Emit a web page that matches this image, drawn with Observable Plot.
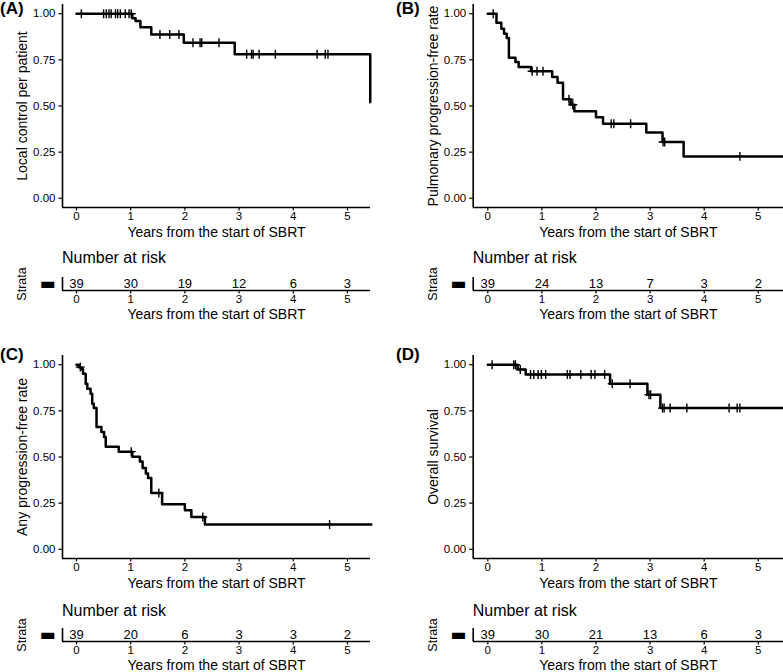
<!DOCTYPE html>
<html><head><meta charset="utf-8">
<script src="https://cdn.jsdelivr.net/npm/d3@7"></script>
<script src="https://cdn.jsdelivr.net/npm/@observablehq/plot@0.6"></script>
<style>
body{margin:0;background:#fff;}
#wrap{position:relative;width:783px;height:672px;overflow:hidden;font-family:"Liberation Sans",Arial,sans-serif;color:#000;}
.abs{position:absolute;white-space:nowrap;}
.letter{font-weight:bold;font-size:17px;line-height:18px;}
.nar{font-size:16px;line-height:16px;}
svg g[aria-label="x-axis label"], svg g[aria-label="y-axis label"]{font-size:14px;}
svg.risk g[aria-label="y-axis label"]{font-size:12.5px;}
svg.risk g[aria-label="y-axis tick label"]{font-size:17px;font-family:"DejaVu Sans",sans-serif;}
</style></head><body><div id="wrap"></div>
<script>
// ---- data ----
const yearTicks = [0, 1, 2, 3, 4, 5];
const survTicks = [0, 0.25, 0.5, 0.75, 1];
const riskTimes = [0, 1, 2, 3, 4, 5];
const xLabel = "Years from the start of SBRT";
const panelLetters = ["(A)", "(B)", "(C)", "(D)"];
const yLabels = ["Local control per patient", "Pulmonary progression-free rate", "Any progression-free rate", "Overall survival"];

const timesA = [0, 1.03, 1.09, 1.18, 1.38, 1.98, 2.92, 5.42];
const survA  = [1, 0.975, 0.96, 0.927, 0.888, 0.843, 0.78, 0.52];
const censorA = [0.09, 0.50, 0.55, 0.60, 0.64, 0.72, 0.76, 0.81, 0.90, 0.97, 1.01, 1.54, 1.72, 1.89, 2.15, 2.28, 2.31, 2.63, 3.14, 3.23, 3.26, 3.37, 3.67, 4.44, 4.59, 4.64];
const riskA = [39, 30, 19, 12, 6, 3];

const timesB = [0, 0.16, 0.25, 0.30, 0.35, 0.39, 0.51, 0.57, 0.80, 1.19, 1.29, 1.39, 1.53, 1.60, 2.00, 2.13, 2.93, 3.23, 3.62, 5.47];
const survB  = [1, 0.951, 0.919, 0.892, 0.868, 0.762, 0.738, 0.711, 0.688, 0.657, 0.626, 0.536, 0.507, 0.471, 0.439, 0.404, 0.356, 0.305, 0.227, 0.227];
const censorB = [0.10, 0.82, 0.91, 1.02, 1.50, 1.57, 2.28, 2.33, 2.64, 3.24, 3.27, 4.66];
const riskB = [39, 24, 13, 7, 3, 2];

const timesC = [0, 0.04, 0.09, 0.12, 0.17, 0.20, 0.26, 0.29, 0.32, 0.37, 0.46, 0.51, 0.54, 0.78, 1.03, 1.17, 1.22, 1.28, 1.32, 1.38, 1.58, 2.00, 2.12, 2.37, 5.44];
const survC  = [1, 0.987, 0.975, 0.951, 0.897, 0.870, 0.843, 0.789, 0.765, 0.662, 0.635, 0.608, 0.556, 0.529, 0.502, 0.476, 0.44, 0.41, 0.386, 0.305, 0.244, 0.211, 0.175, 0.134, 0.134];
const censorC = [0.07, 1.01, 1.52, 2.33, 4.67];
const riskC = [39, 20, 6, 3, 3, 2];

const timesD = [0, 0.55, 0.70, 2.26, 2.95, 3.19, 5.48];
const survD  = [1, 0.974, 0.947, 0.897, 0.837, 0.765, 0.765];
const censorD = [0.08, 0.48, 0.51, 0.60, 0.79, 0.85, 0.93, 0.99, 1.07, 1.47, 1.52, 1.72, 1.91, 1.98, 2.16, 2.30, 2.63, 2.98, 3.01, 3.23, 3.26, 3.37, 3.68, 4.46, 4.61, 4.66];
const riskD = [39, 30, 21, 13, 6, 3];

// ---- layout ----
const FONT = '"Liberation Sans", Arial, sans-serif';
const leftCol  = {left: 0,   width: 390, ml: 62,   mr: 20, xdom: [-0.258, 5.425]};
const rightCol = {left: 390, width: 393, ml: 82.7, mr: 0,  xdom: [-0.27, 5.466]};

const panels = [
  {col: leftCol,  top: 0,   times: timesA, surv: survA, censor: censorA, risk: riskA},
  {col: rightCol, top: 0,   times: timesB, surv: survB, censor: censorB, risk: riskB},
  {col: leftCol,  top: 351, times: timesC, surv: survC, censor: censorC, risk: riskC},
  {col: rightCol, top: 351, times: timesD, surv: survD, censor: censorD, risk: riskD}
];

const wrap = document.getElementById("wrap");
function place(node, left, top) {
  const d = document.createElement("div");
  d.className = "abs";
  d.style.left = left + "px";
  d.style.top = top + "px";
  d.appendChild(node);
  wrap.appendChild(d);
  return d;
}
function htmlText(txt, cls, left, top) {
  const d = document.createElement("div");
  d.className = "abs " + cls;
  d.style.left = left + "px";
  d.style.top = top + "px";
  d.textContent = txt;
  wrap.appendChild(d);
}

function survPlot(p, ylabel) {
  const c = p.col;
  const line = p.times.map((t, i) => ({t, s: p.surv[i]}));
  const stepAt = t => { let v = p.surv[0]; p.times.forEach((tt, i) => { if (tt <= t) v = p.surv[i]; }); return v; };
  const cens = p.censor.map(t => ({t, s: stepAt(t)}));
  return Plot.plot({
    width: c.width, height: 240,
    marginLeft: c.ml, marginRight: c.mr, marginTop: 4, marginBottom: 33,
    style: {fontFamily: FONT, fontSize: "11.5px", color: "black", background: "transparent", overflow: "visible"},
    x: {domain: c.xdom},
    y: {domain: [-0.05, 1.05]},
    marks: [
      Plot.ruleX([c.xdom[0]], {stroke: "black", strokeWidth: 1.6}),
      Plot.ruleY([-0.05], {stroke: "black", strokeWidth: 1.6}),
      Plot.axisX({ticks: yearTicks, tickFormat: d3.format("d"), tickSize: 3.5, tickPadding: 0.5, strokeWidth: 1.2,
        label: xLabel, labelAnchor: "center", labelArrow: "none", labelOffset: 29}),
      Plot.axisY({ticks: survTicks, tickFormat: d3.format(".2f"), tickSize: 3.5, tickPadding: 3.5, strokeWidth: 1.2,
        label: ylabel, labelAnchor: "center", labelArrow: "none", labelOffset: 45}),
      Plot.line(line, {x: "t", y: "s", curve: "step-after", stroke: "black", strokeWidth: 2.5}),
      Plot.dot(cens, {x: "t", y: "s", symbol: "plus", r: 3, stroke: "black", strokeWidth: 1.4})
    ]
  });
}

function riskPlot(p) {
  const c = p.col;
  const data = riskTimes.map((t, i) => ({t, n: p.risk[i]}));
  return Plot.plot({
    className: "risk",
    width: c.width, height: 50,
    marginLeft: c.ml, marginRight: c.mr, marginTop: 7, marginBottom: 30,
    style: {fontFamily: FONT, fontSize: "11.5px", color: "black", background: "transparent", overflow: "visible"},
    x: {domain: c.xdom},
    y: {domain: [0.5, 1.5]},
    marks: [
      Plot.ruleX([c.xdom[0]], {stroke: "black", strokeWidth: 1.6}),
      Plot.ruleY([0.5], {stroke: "black", strokeWidth: 1.6}),
      Plot.axisX({ticks: yearTicks, tickFormat: d3.format("d"), tickSize: 3.5, tickPadding: 0.5, strokeWidth: 1.2,
        label: xLabel, labelAnchor: "center", labelArrow: "none", labelOffset: 28.5}),
      Plot.axisY({ticks: [1], tickFormat: () => "\u25AC", tickSize: 0, tickPadding: 7,
        label: "Strata", labelAnchor: "center", labelArrow: "none", labelOffset: 45}),
      Plot.text(data, {x: "t", y: () => 1, text: "n", fontSize: 13, fontFamily: FONT})
    ]
  });
}

panels.forEach((p, i) => {
  place(survPlot(p, yLabels[i]), p.col.left, p.top);
  place(riskPlot(p), p.col.left, p.top + 270);
  htmlText("Number at risk", "nar", p.col.left + p.col.ml, p.top + 250 + (p.top ? 1.5 : 0));
  htmlText(panelLetters[i], "letter", p.col.left + (i % 2 ? 396 - 390 : 0), p.top === 0 ? 0 : 345.5);
});
</script></body></html>
